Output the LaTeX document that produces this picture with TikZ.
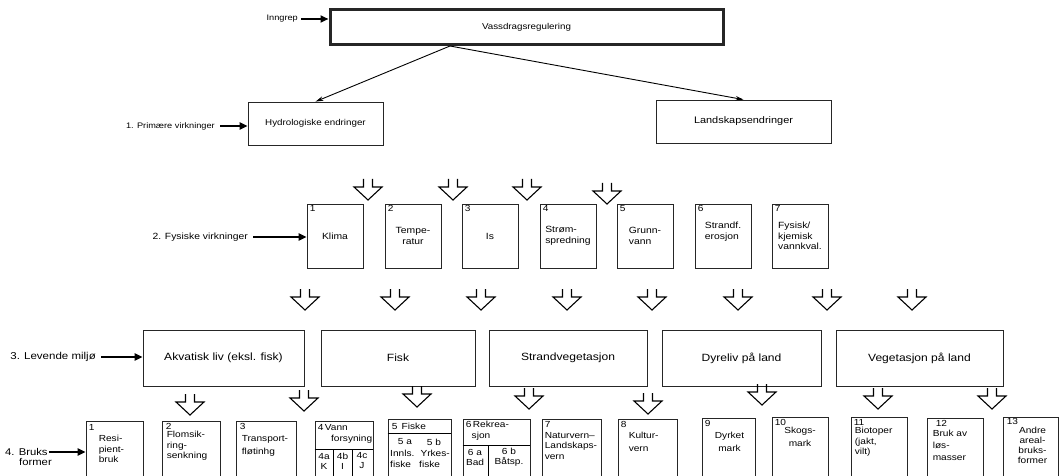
\documentclass[tikz,border=0pt]{standalone}
\usepackage{fontspec}
\setmainfont[FakeStretch=1.15]{Liberation Sans}
\usetikzlibrary{arrows.meta,calc}
\begin{document}
\begin{tikzpicture}[x=1pt,y=-1pt,
  line join=miter,
  bx/.style={draw=black!85, line width=0.8pt, inner sep=1pt, font=\fontsize{8.5}{11}\selectfont, align=center},
  topbox/.style={bx, line width=3pt},
  r2box/.style={bx, minimum width=56pt, minimum height=64pt, font=\fontsize{9}{11}\selectfont},
  r3box/.style={bx, minimum height=56pt, font=\fontsize{10.5}{12}\selectfont},
  r4box/.style={draw=black!85, line width=0.8pt, inner sep=0pt, anchor=north},
  lab/.style={font=\fontsize{8}{10}\selectfont, inner sep=1pt},
  num/.style={font=\fontsize{8.8}{10}\selectfont, inner sep=0pt, anchor=north west},
  stxt/.style={font=\fontsize{8.8}{10.5}\selectfont, inner sep=0pt, align=left, anchor=north west},
  ctxt/.style={font=\fontsize{8.8}{10}\selectfont, inner sep=0pt, align=center},
  fat/.style={line width=2.4pt, -{Triangle[length=8pt,width=7pt]}},
  thinarr/.style={line width=0.9pt, -{Stealth[length=8pt,width=4.5pt]}},
  harrow/.pic={\draw[line width=1.1pt] (-4.5,0) -- (-4.5,8) -- (-14,8) -- (0,21) -- (14,8) -- (4.5,8) -- (4.5,0);}
]
\useasboundingbox[fill=white] (0,0) rectangle (1061,476);

% ---- level 0
\node[topbox, minimum width=393pt, minimum height=35pt] (vassd) at (526.5,27.5) {Vassdragsregulering};
\node[lab, anchor=east] (inngrep) at (299,19) {Inngrep};
\draw[fat, shorten <=2pt] (inngrep.east) -- (inngrep.east -| vassd.west);

% ---- level 1
\node[bx, minimum width=135pt, minimum height=43pt] (hydro) at (315.5,123.5) {Hydrologiske endringer};
\node[bx, minimum width=175pt, minimum height=43pt, font=\fontsize{9.5}{11}\selectfont] (landsk) at (743.5,121.5) {Landskapsendringer};
\node[lab, anchor=east] (prim) at (216,126) {1. Primære virkninger};
\draw[fat, shorten <=4pt] (prim.east) -- (prim.east -| hydro.west);
\coordinate (split) at (450,46);
\draw[thinarr] (split) -- (hydro.north);
\draw[thinarr] (split) -- (landsk.north);

% ---- hollow arrows row 2
\pic at (368,179) {harrow};
\pic at (453,179) {harrow};
\pic at (527,179) {harrow};
\pic at (607,183) {harrow};

% ---- level 2
\node[r2box] (k1) at (335,236) {Klima};
\node[r2box] (k2) at (413,236) {Tempe-\\ratur};
\node[r2box] (k3) at (490,236) {Is};
\node[r2box, align=left] (k4) at (568,236) {Strøm-\\spredning};
\node[r2box, align=left] (k5) at (645,236) {Grunn-\\vann};
\node[r2box] (k6) at (723,236) {};
\node[font=\fontsize{9}{11}\selectfont, align=left, inner sep=0pt] at ($(k6.center)+(0,-4)$) {Strandf.\\erosjon};
\node[r2box, align=left, font=\fontsize{9}{10.5}\selectfont] (k7) at (800,236) {Fysisk/\\kjemisk\\vannkval.};
\foreach \i in {1,...,7} {\node[num] at ($(k\i.north west)+(3,2)$) {\i};}
\node[lab, anchor=east, font=\fontsize{9}{10}\selectfont] (fys) at (249,237) {2. Fysiske virkninger};
\draw[fat, shorten <=4pt] (fys.east) -- (fys.east -| k1.west);

% ---- hollow arrows row 3
\foreach \x in {305,395,481,567,652,738,827,912} {\pic at (\x,289) {harrow};}

% ---- level 3
\node[r3box, minimum width=161pt] (akv) at (223.5,358) {Akvatisk liv (eksl. fisk)};
\node[r3box, minimum width=154pt] (fisk) at (398,358) {Fisk};
\node[r3box, minimum width=158pt] (strand) at (568,358) {Strandvegetasjon};
\node[r3box, minimum width=159pt] (dyr) at (741.5,358) {Dyreliv på land};
\node[r3box, minimum width=167pt] (veg) at (919.5,358) {Vegetasjon på land};
\node[lab, anchor=east, font=\fontsize{10}{11}\selectfont] (lev) at (97,357) {3. Levende miljø};
\draw[fat, shorten <=4pt] (lev.east) -- (lev.east -| akv.west);

% ---- hollow arrows row 4
\pic at (190,394) {harrow};
\pic at (304,390) {harrow};
\pic at (417,386) {harrow};
\pic at (529,388) {harrow};
\pic at (648,393) {harrow};
\pic at (762,384) {harrow};
\pic at (878,388) {harrow};
\pic at (992,388) {harrow};

% ---- level 4
\node[r4box, minimum width=57pt, minimum height=59pt] (b1) at (114.5,421) {};
\node[r4box, minimum width=58pt, minimum height=59pt] (b2) at (191,421) {};
\node[r4box, minimum width=60pt, minimum height=59pt] (b3) at (266,421) {};
\node[r4box, minimum width=58pt, minimum height=59pt] (b4) at (344,421) {};
\node[r4box, minimum width=63pt, minimum height=61pt] (b5) at (419.5,419) {};
\node[r4box, minimum width=67pt, minimum height=61pt] (b6) at (496.5,419) {};
\node[r4box, minimum width=59pt, minimum height=61pt] (b7) at (571.5,419) {};
\node[r4box, minimum width=59pt, minimum height=61pt] (b8) at (647.5,419) {};
\node[r4box, minimum width=53pt, minimum height=62pt] (b9) at (728.5,418) {};
\node[r4box, minimum width=56pt, minimum height=63pt] (b10) at (800,417) {};
\node[r4box, minimum width=56pt, minimum height=63pt] (b11) at (879,417) {};
\node[r4box, minimum width=56pt, minimum height=62pt] (b12) at (955,418) {};
\node[r4box, minimum width=55pt, minimum height=63pt] (b13) at (1030.5,417) {};

\node[lab, anchor=west, font=\fontsize{9.8}{10}\selectfont] (bruks) at (4,452) {4. Bruks};
\node[lab, anchor=north west, font=\fontsize{9.8}{10}\selectfont] at ($(bruks.south west)+(14,0)$) {former};
\draw[fat] (bruks.east) -- (bruks.east -| b1.west);

% box 1-3
\node[num] at ($(b1.north west)+(3,3)$) {1};
\node[stxt] at ($(b1.north west)+(13,14)$) {Resi-\\pient-\\bruk};
\node[num] at ($(b2.north west)+(4,2)$) {2};
\node[stxt] at ($(b2.north west)+(5,10)$) {Flomsik-\\ring-\\senkning};
\node[num] at ($(b3.north west)+(4,2)$) {3};
\node[stxt] at ($(b3.north west)+(6,14)$) {Transport-\\[3pt]fløtinhg};
% box 4
\node[num] at ($(b4.north west)+(3,3)$) {4\,Vann};
\node[font=\fontsize{8.8}{10}\selectfont, inner sep=0pt, anchor=north east] at ($(b4.north east)+(-1,14)$) {forsyning};
\draw[line width=0.8pt] (b4.west |- 0,449) -- (b4.east |- 0,449);
\draw[line width=0.8pt] (333,449) -- (333,480);
\draw[line width=0.8pt] (352,449) -- (352,480);
\node[ctxt] at (324,461) {4a\\K};
\node[ctxt] at (342.5,461) {4b\\I};
\node[ctxt] at (362,461) {4c\\J};
% box 5
\node[num] at ($(b5.north west)+(4,4)$) {5\ \,Fiske};
\draw[line width=0.8pt] (b5.west |- 0,433) -- (b5.east |- 0,433);
\node[ctxt] at (405,442) {5 a};
\node[ctxt] at (434,442) {5 b};
\node[ctxt, anchor=west] at (390,453) {Innls.};
\node[ctxt, anchor=east] at (450,453) {Yrkes-};
\node[ctxt, anchor=west] at (390,464) {fiske};
\node[ctxt, anchor=west] at (419,464) {fiske};
% box 6
\node[num] at ($(b6.north west)+(3,2)$) {6\,Rekrea-};
\node[ctxt] at (481,436) {sjon};
\draw[line width=0.8pt] (b6.west |- 0,445) -- (b6.east |- 0,445);
\draw[line width=0.8pt] (488,445) -- (488,480);
\node[ctxt] at (475,457) {6 a\\Bad};
\node[ctxt] at (509,457) {6 b\\Båtsp.};
% box 7-13
\node[num] at ($(b7.north west)+(3,2)$) {7};
\node[stxt] at ($(b7.north west)+(3,13)$) {Naturvern–\\Landskaps-\\vern};
\node[num] at ($(b8.north west)+(3,2)$) {8};
\node[stxt, font=\fontsize{8.8}{13}\selectfont] at ($(b8.north west)+(11,13)$) {Kultur-\\vern};
\node[num] at ($(b9.north west)+(3,2)$) {9};
\node[ctxt, anchor=north, font=\fontsize{8.8}{13}\selectfont] at ($(b9.north)+(1,14)$) {Dyrket\\mark};
\node[num] at ($(b10.north west)+(3,2)$) {10};
\node[ctxt, anchor=north, font=\fontsize{8.8}{13}\selectfont] at ($(b10.north)+(0,10)$) {Skogs-\\mark};
\node[num] at ($(b11.north west)+(3,2)$) {11};
\node[stxt] at ($(b11.north west)+(4,10)$) {Biotoper\\(jakt,\\vilt)};
\node[num] at ($(b12.north west)+(9,2)$) {12};
\node[stxt, font=\fontsize{8.8}{12}\selectfont] at ($(b12.north west)+(6,12)$) {Bruk av\\løs-\\masser};
\node[num] at ($(b13.north west)+(4,1)$) {13};
\node[ctxt, anchor=north] at ($(b13.north)+(2,10)$) {Andre\\areal-\\bruks-\\former};
\end{tikzpicture}
\end{document}
